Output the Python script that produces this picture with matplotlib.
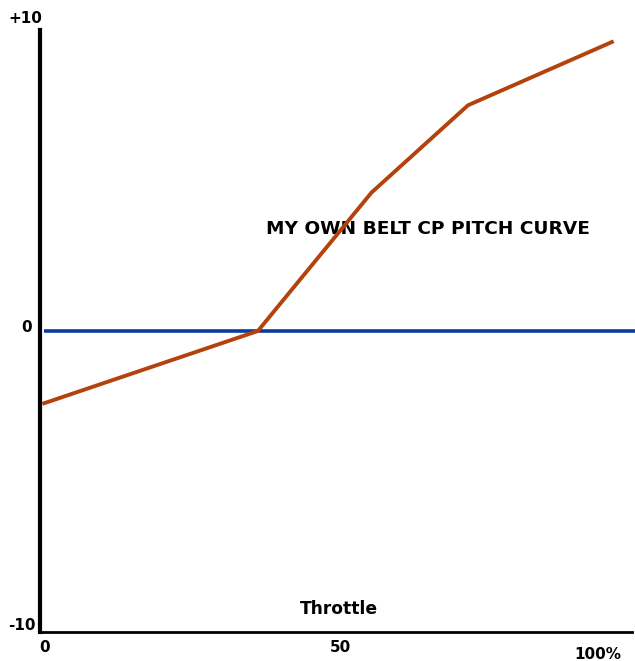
import matplotlib
matplotlib.use("Agg")
import matplotlib.pyplot as plt

# Data
throttle = [0.7, 36.8, 56.0, 72.3, 96.6]
pitch = [-2.4, 0.0, 4.6, 7.5, 9.6]
zero_line_x = [0.7, 100.5]
zero_line_y = [0, 0]
x_tick_vals = [0, 50, 100]
x_tick_labels = ["0", "50", "100%"]
y_tick_vals = [10, 0, -10]
y_tick_labels = ["+10", "0", "-10"]
title = "MY OWN BELT CP PITCH CURVE"
xlabel = "Throttle"

plt.rcParams['font.family'] = ['DejaVu Sans']

fig = plt.figure(figsize=(6.35, 6.61), dpi=100)
ax = fig.add_axes([40/635, 29/661, 592/635, 602/661])
ax.set_xlim(0, 100)
ax.set_ylim(-10, 10)

ax.plot(zero_line_x, zero_line_y, color='#0a3c9f', lw=2.6, clip_on=False, solid_capstyle='butt', zorder=3)
ax.plot(throttle, pitch, color='#b3420c', lw=2.8, clip_on=False, solid_joinstyle='round', zorder=4)

for s in ['top', 'right']:
    ax.spines[s].set_visible(False)
ax.spines['left'].set_linewidth(3)
ax.spines['bottom'].set_linewidth(2)
ax.spines['left'].set_color('black')
ax.spines['bottom'].set_color('black')
ax.set_xticks([])
ax.set_yticks([])

fs = 11
fw = 'semibold'
# y tick labels
ax.text(-2.4, y_tick_vals[0] + 0.37, y_tick_labels[0], ha='center', va='center', fontsize=fs, fontweight=fw, clip_on=False)
ax.text(-2.2, y_tick_vals[1] + 0.1, y_tick_labels[1], ha='center', va='center', fontsize=fs, fontweight=fw, clip_on=False)
ax.text(-3.1, y_tick_vals[2] + 0.2, y_tick_labels[2], ha='center', va='center', fontsize=fs, fontweight=fw, clip_on=False)

# x tick labels
ax.text(x_tick_vals[0] + 0.85, -10.53, x_tick_labels[0], ha='center', va='center', fontsize=fs, fontweight=fw, clip_on=False)
ax.text(x_tick_vals[1] + 0.7, -10.53, x_tick_labels[1], ha='center', va='center', fontsize=fs, fontweight=fw, clip_on=False)
ax.text(x_tick_vals[2] - 5.7, -10.74, x_tick_labels[2], ha='center', va='center', fontsize=fs, fontweight=fw, clip_on=False)

ax.text(65.5, 3.4, title, ha='center', va='center', fontsize=13.3, fontweight=fw, clip_on=False, zorder=2)
ax.text(50.5, -9.24, xlabel, ha='center', va='center', fontsize=12.3, fontweight=fw, clip_on=False)

fig.savefig("out.png", dpi=100, facecolor='white')
